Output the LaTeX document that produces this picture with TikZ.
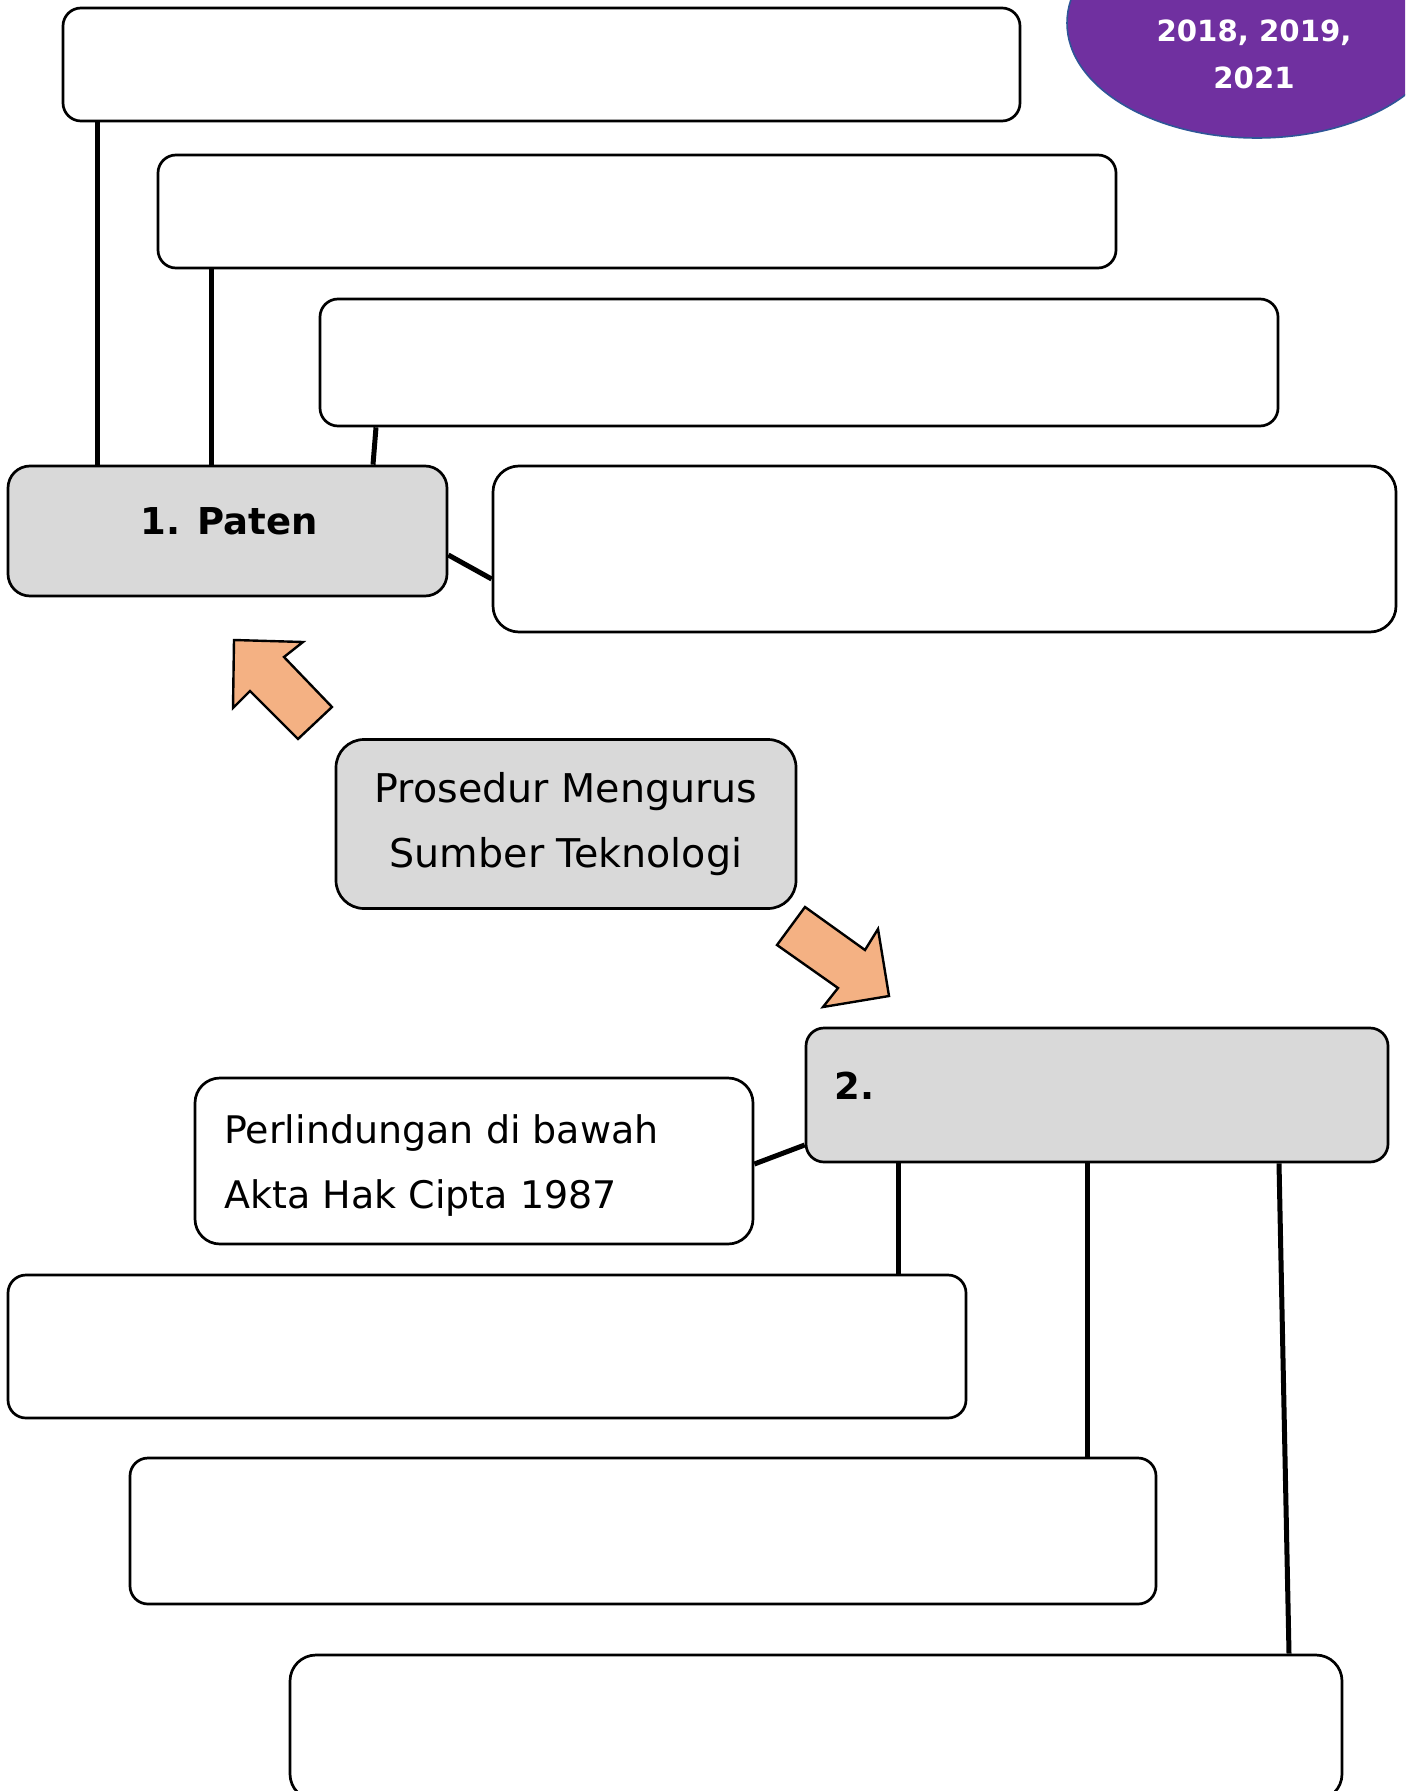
\documentclass[tikz,border=0pt]{standalone}
\usepackage{fontspec}
\setmainfont{DejaVu Sans}
\usetikzlibrary{shapes.geometric}
\definecolor{boxgray}{HTML}{D9D9D9}
\definecolor{ovalpurple}{HTML}{7030A0}
\definecolor{ovaledge}{HTML}{2F5597}
\definecolor{arrowpeach}{HTML}{F4B183}
\tikzset{
  box/.style 2 args={draw=black, line width=1.35pt, fill=white, rounded corners=9pt,
    inner sep=0pt, minimum width=#1*0.5pt, minimum height=#2*0.5pt},
  graybox/.style={fill=boxgray},
  link/.style={line width=2.5pt, black},
  bigarrow/.style={fill=arrowpeach, draw=black, line width=1.2pt, line join=miter},
  txt/.style={font=\fontsize{19pt}{32.5pt}\selectfont, inner sep=0pt},
  boldtxt/.style={font=\fontsize{18.5pt}{24pt}\selectfont\bfseries, inner sep=0pt},
}
\begin{document}
\begin{tikzpicture}[x=0.5pt,y=-0.5pt]
\useasboundingbox (0,0) rectangle (1405,1791);
\clip (0,0) rectangle (1405,1791);
\fill[white] (0,0) rectangle (1405,1791);

% top group boxes
\node[box={957}{113}] (A) at (541.5,64.5) {};
\node[box={958}{113}] (B) at (637,211.5) {};
\node[box={958}{127}] (C) at (799,362.5) {};
\node[box={903}{166}, rounded corners=13pt] (D) at (944.5,549) {};
\node[box={439}{130}, graybox, rounded corners=11pt] (paten) at (227.5,531) {};
\node[boldtxt] (patentxt) at (229,521) {1. Paten};

% oval
\node[ellipse, fill=ovalpurple, draw=ovaledge, line width=0.8pt, inner sep=0pt,
      minimum width=190pt, minimum height=115pt] (oval) at (1257,23) {};
\node[font=\fontsize{14.6pt}{23.5pt}\selectfont\bfseries, text=white, align=center, inner sep=0pt]
  (ovaltxt) at (1254,54) {2018, 2019,\\2021};

% connectors of top group
\coordinate (xa) at (97,0);
\coordinate (xb) at (211,0);
\coordinate (xc1) at (376,0);
\coordinate (xc2) at (373,0);
\coordinate (yp1) at (0,555);
\coordinate (yp2) at (0,579);
\draw[link] (A.south -| xa) -- (paten.north -| xa);
\draw[link] (B.south -| xb) -- (paten.north -| xb);
\draw[link] (C.south -| xc1) -- (paten.north -| xc2);
\draw[link] (paten.east |- yp1) -- (D.west |- yp2);

% centre box
\node[box={460}{169}, graybox, rounded corners=14pt, txt, font=\fontsize{19.8pt}{32.5pt}\selectfont, align=center] (proc) at (566,824)
  {Prosedur Mengurus\\Sumber Teknologi};

% arrows
\draw[bigarrow] (234,640) -- (303,642) -- (284,657) -- (332,707) -- (298,739) -- (250,691) -- (233,708) -- cycle;
\draw[bigarrow] (805,907) -- (865,950) -- (878,929) -- (889,996) -- (823,1007) -- (838,988) -- (777,945) -- cycle;

% bottom group
\node[box={582}{134}, graybox] (two) at (1097,1095) {};
\node[boldtxt, anchor=west] (twotxt) at (834,1086) {2.};
\node[box={558}{166}, rounded corners=12.5pt] (perl) at (474,1161) {};
\node[txt, anchor=west, align=left] (perltxt) at (224,1166) {Perlindungan di bawah\\Akta Hak Cipta 1987};
\node[box={958}{143}] (E) at (487,1346.5) {};
\node[box={1026}{146}] (F) at (643,1531) {};
\node[box={1052}{145}, rounded corners=13pt] (G) at (816,1727.5) {};

\coordinate (xe) at (898,0);
\coordinate (xf) at (1087,0);
\coordinate (xg1) at (1279,0);
\coordinate (xg2) at (1289,0);
\coordinate (yq1) at (0,1164);
\coordinate (yq2) at (0,1145);
\draw[link] (perl.east |- yq1) -- (two.west |- yq2);
\draw[link] (two.south -| xe) -- (E.north -| xe);
\draw[link] (two.south -| xf) -- (F.north -| xf);
\draw[link] (two.south -| xg1) -- (G.north -| xg2);
\end{tikzpicture}
\end{document}
